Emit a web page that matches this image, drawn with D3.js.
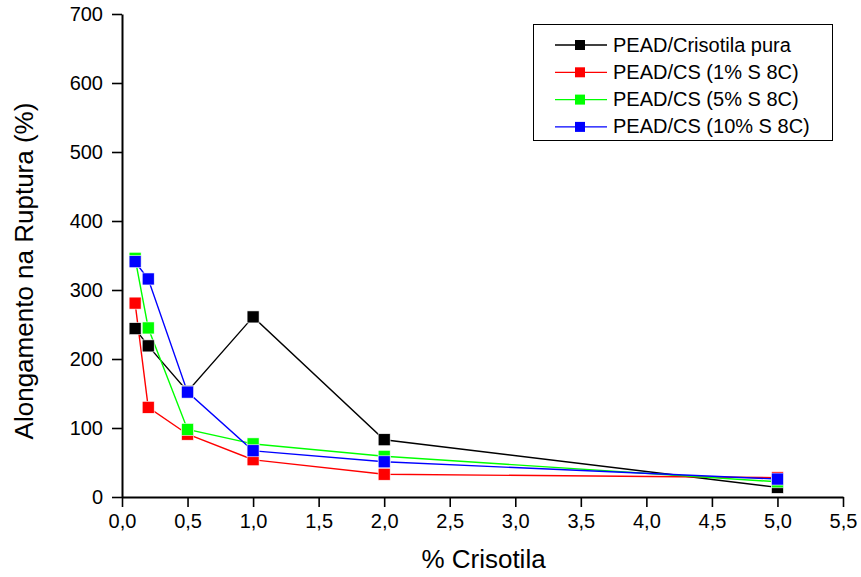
<!DOCTYPE html>
<html><head><meta charset="utf-8">
<script src="https://cdn.jsdelivr.net/npm/d3@7"></script>
<style>body{margin:0;background:#fff}svg{display:block}text{font-family:"Liberation Sans",Arial,sans-serif;fill:#000}</style>
</head><body><svg id="c" width="861" height="577"></svg>
<script>
const xValues = [0.1, 0.2, 0.5, 1.0, 2.0, 5.0];
const seriesNames = ["PEAD/Crisotila pura", "PEAD/CS (1% S 8C)", "PEAD/CS (5% S 8C)", "PEAD/CS (10% S 8C)"];
const seriesColors = ["#000000", "#ff0000", "#00ff00", "#0000ff"];
const pura = [244, 219, 153, 261, 83, 14];
const cs1 = [281, 130, 91, 54, 33, 28];
const cs5 = [346, 245, 98, 77, 59, 22];
const cs10 = [341, 316, 152, 67, 51, 26];
const xTicks = [0, 0.5, 1, 1.5, 2, 2.5, 3, 3.5, 4, 4.5, 5, 5.5];
const yTicks = [0, 100, 200, 300, 400, 500, 600, 700];

const series = [pura, cs1, cs5, cs10];
const svg = d3.select("#c");
const x = d3.scaleLinear().domain([0, 5.5]).range([122, 843]);
const y = d3.scaleLinear().domain([0, 700]).range([497, 14]);
const fmt = d => d3.format(".1f")(d).replace(".", ",");
const FF = "Liberation Sans, Arial, sans-serif";

const xMinor = d3.range(0.25, 5.5, 0.5);
const yMinor = d3.range(50, 700, 100);
const gx = svg.append("g").attr("transform", "translate(0,497)");
gx.call(d3.axisBottom(x).tickValues(xMinor).tickSize(5).tickSizeOuter(0).tickFormat(""));
gx.call(d3.axisBottom(x).tickValues(xTicks).tickSize(10).tickSizeOuter(0).tickPadding(7).tickFormat(fmt));
gx.select(".domain").attr("stroke-width", 2);
gx.selectAll(".tick line").attr("stroke-width", 1.6);
gx.selectAll("text").style("font-size", "20px").style("font-family", FF);
const gy = svg.append("g").attr("transform", "translate(122,0)");
gy.call(d3.axisLeft(y).tickValues(yMinor).tickSize(5).tickSizeOuter(0).tickFormat(""));
gy.call(d3.axisLeft(y).tickValues(yTicks).tickSize(10).tickSizeOuter(0).tickPadding(9).tickFormat(d3.format("d")));
gy.select(".domain").attr("stroke-width", 2);
gy.selectAll(".tick line").attr("stroke-width", 1.6);
gy.selectAll("text").style("font-size", "20px").style("font-family", FF);

svg.append("text").attr("x", 483.5).attr("y", 568).attr("text-anchor", "middle").style("font-size", "26px").text("% Crisotila");
svg.append("text").attr("transform", "translate(33,271) rotate(-90)").attr("text-anchor", "middle").style("font-size", "26px").text("Alongamento na Ruptura (%)");

const line = d3.line().x((d, i) => x(xValues[i])).y(d => y(d));
series.forEach((s, k) => {
  svg.append("path").attr("d", line(s)).attr("fill", "none").attr("stroke", seriesColors[k]).attr("stroke-width", 1.4);
});
series.forEach((s, k) => {
  svg.append("g").selectAll("rect").data(s).join("rect")
    .attr("x", (d, i) => x(xValues[i]) - 6).attr("y", d => y(d) - 6)
    .attr("width", 12).attr("height", 12).attr("fill", seriesColors[k])
    .attr("stroke", "#fff").attr("stroke-width", 0.6);
});

const lg = svg.append("g");
lg.append("rect").attr("x", 533.5).attr("y", 24.5).attr("width", 299).attr("height", 116).attr("fill", "#fff").attr("stroke", "#000").attr("stroke-width", 1);
seriesNames.forEach((n, k) => {
  const yy = 45 + k * 27.3;
  lg.append("line").attr("x1", 555).attr("x2", 607).attr("y1", yy).attr("y2", yy).attr("stroke", seriesColors[k]).attr("stroke-width", 1.3);
  lg.append("rect").attr("x", 575).attr("y", yy - 5).attr("width", 10).attr("height", 10).attr("fill", seriesColors[k]);
  lg.append("text").attr("x", 613).attr("y", yy + 6.5).style("font-size", "20px").text(n);
});
</script></body></html>
